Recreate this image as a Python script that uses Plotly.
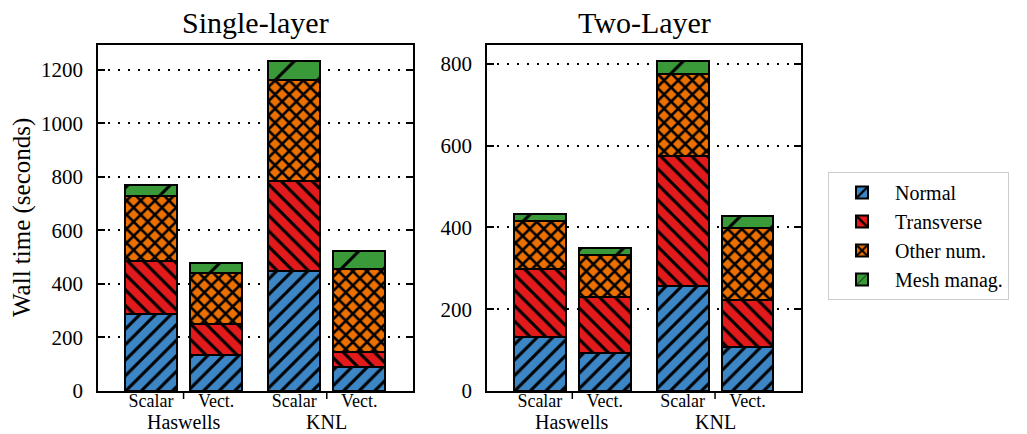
import plotly.graph_objects as go

# ---- data ----
bar_labels = ["Scalar", "Vect.", "Scalar", "Vect."]
bar_pos = [0.0, 1.0, 2.2, 3.2]
groups = ["Haswells", "KNL"]
group_members = [[0, 1], [2, 3]]
components = ["Normal", "Transverse", "Other num.", "Mesh manag."]

single_normal = [288, 135, 448, 88]
single_transverse = [199, 117, 336, 59]
single_other = [243, 188, 379, 308]
single_mesh = [40, 37, 68, 69]

two_normal = [133, 94, 258, 108]
two_transverse = [166, 137, 316, 115]
two_other = [116, 101, 202, 175]
two_mesh = [19, 19, 30, 31]

panel_titles = ["Single-layer", "Two-Layer"]
y_label = "Wall time (seconds)"

# ---- styles ----
colors = ["#3d86c6", "#e31a1c", "#ec7000", "#3a9a3a"]
patterns = [dict(shape="/", size=11, solidity=0.28),
            dict(shape="\\", size=11, solidity=0.28),
            dict(shape="x", size=10, solidity=0.45),
            dict(shape="/", size=30, solidity=0.1)]
FONT = "Liberation Serif"
W, H = 1027, 434

xdomains = [[98.3 / W, 412.7 / W], [487.3 / W, 800.7 / W]]
ydomain = [43 / H, 389 / H]

panels = [
    [single_normal, single_transverse, single_other, single_mesh],
    [two_normal, two_transverse, two_other, two_mesh],
]

fig = go.Figure()
for p, series in enumerate(panels):
    xa = "x" if p == 0 else "x2"
    ya = "y" if p == 0 else "y2"
    for k, vals in enumerate(series):
        fig.add_trace(go.Bar(
            x=bar_pos, y=vals, width=0.8, name=components[k],
            xaxis=xa, yaxis=ya,
            legendgroup=components[k], showlegend=(p == 0),
            marker=dict(color=colors[k],
                        line=dict(color="black", width=2),
                        pattern=dict(fgcolor="black", bgcolor=colors[k],
                                     fillmode="replace", **patterns[k])),
        ))

totals = [[sum(v) for v in zip(*series)] for series in panels]

axis_common = dict(showline=True, linecolor="black", linewidth=2, mirror=True)
layout = dict(
    width=W, height=H, barmode="stack",
    margin=dict(l=0, r=0, t=0, b=0, autoexpand=False),
    plot_bgcolor="white", paper_bgcolor="white",
    font=dict(family=FONT, color="black", size=20),
    legend=dict(x=828 / W, y=(H - 172) / H, xanchor="left", yanchor="top",
                bordercolor="#cccccc", borderwidth=1, bgcolor="white",
                font=dict(family=FONT, size=20), traceorder="grouped",
                tracegroupgap=0, itemwidth=56),
    annotations=[], shapes=[],
)
for p in range(2):
    sfx = "" if p == 0 else "2"
    layout["xaxis" + sfx] = dict(
        domain=xdomains[p], anchor="y" + sfx, range=[-0.81, 4.02],
        tickvals=bar_pos, ticktext=bar_labels, ticks="",
        tickfont=dict(family=FONT, size=18), showgrid=False, zeroline=False,
        ticklabelstandoff=-8, automargin=False, **axis_common)
    layout["yaxis" + sfx] = dict(
        domain=ydomain, anchor="x" + sfx, range=[0, max(totals[p]) * 1.05],
        dtick=200, ticks="inside", ticklen=7, tickwidth=1.5, tickcolor="black",
        tickfont=dict(family=FONT, size=21), ticklabelstandoff=9,
        showgrid=True, gridcolor="black", gridwidth=1.5, griddash="2px,8px",
        zeroline=False, automargin=False,
        showline=True, linecolor="black", linewidth=2, mirror="ticks")
    # panel title
    layout["annotations"].append(dict(
        text=panel_titles[p], xref="paper", yref="paper",
        x=sum(xdomains[p]) / 2, y=(H - 22) / H, xanchor="center", yanchor="middle",
        showarrow=False, font=dict(family=FONT, size=30)))
    # group labels and group ticks
    for g, members in enumerate(group_members):
        gx = sum(bar_pos[m] for m in members) / len(members)
        layout["annotations"].append(dict(
            text=groups[g], xref="x" + sfx, yref="paper",
            x=gx, y=0, xanchor="center", yanchor="bottom", borderpad=0,
            showarrow=False, font=dict(family=FONT, size=20)))
        layout["shapes"].append(dict(
            type="line", xref="x" + sfx, yref="paper",
            x0=gx, x1=gx, y0=ydomain[0], y1=ydomain[0] - 8 / H,
            line=dict(color="black", width=1.5)))

layout["annotations"].append(dict(
    text=y_label, xref="paper", yref="paper", x=22 / W, y=sum(ydomain) / 2,
    xanchor="center", yanchor="middle", textangle=-90, showarrow=False,
    font=dict(family=FONT, size=25)))

fig.update_layout(**layout)
fig.write_html("out.html", config={"displayModeBar": False},
               post_script="document.body.style.margin='0';"
                           "document.body.style.overflow='hidden';")
